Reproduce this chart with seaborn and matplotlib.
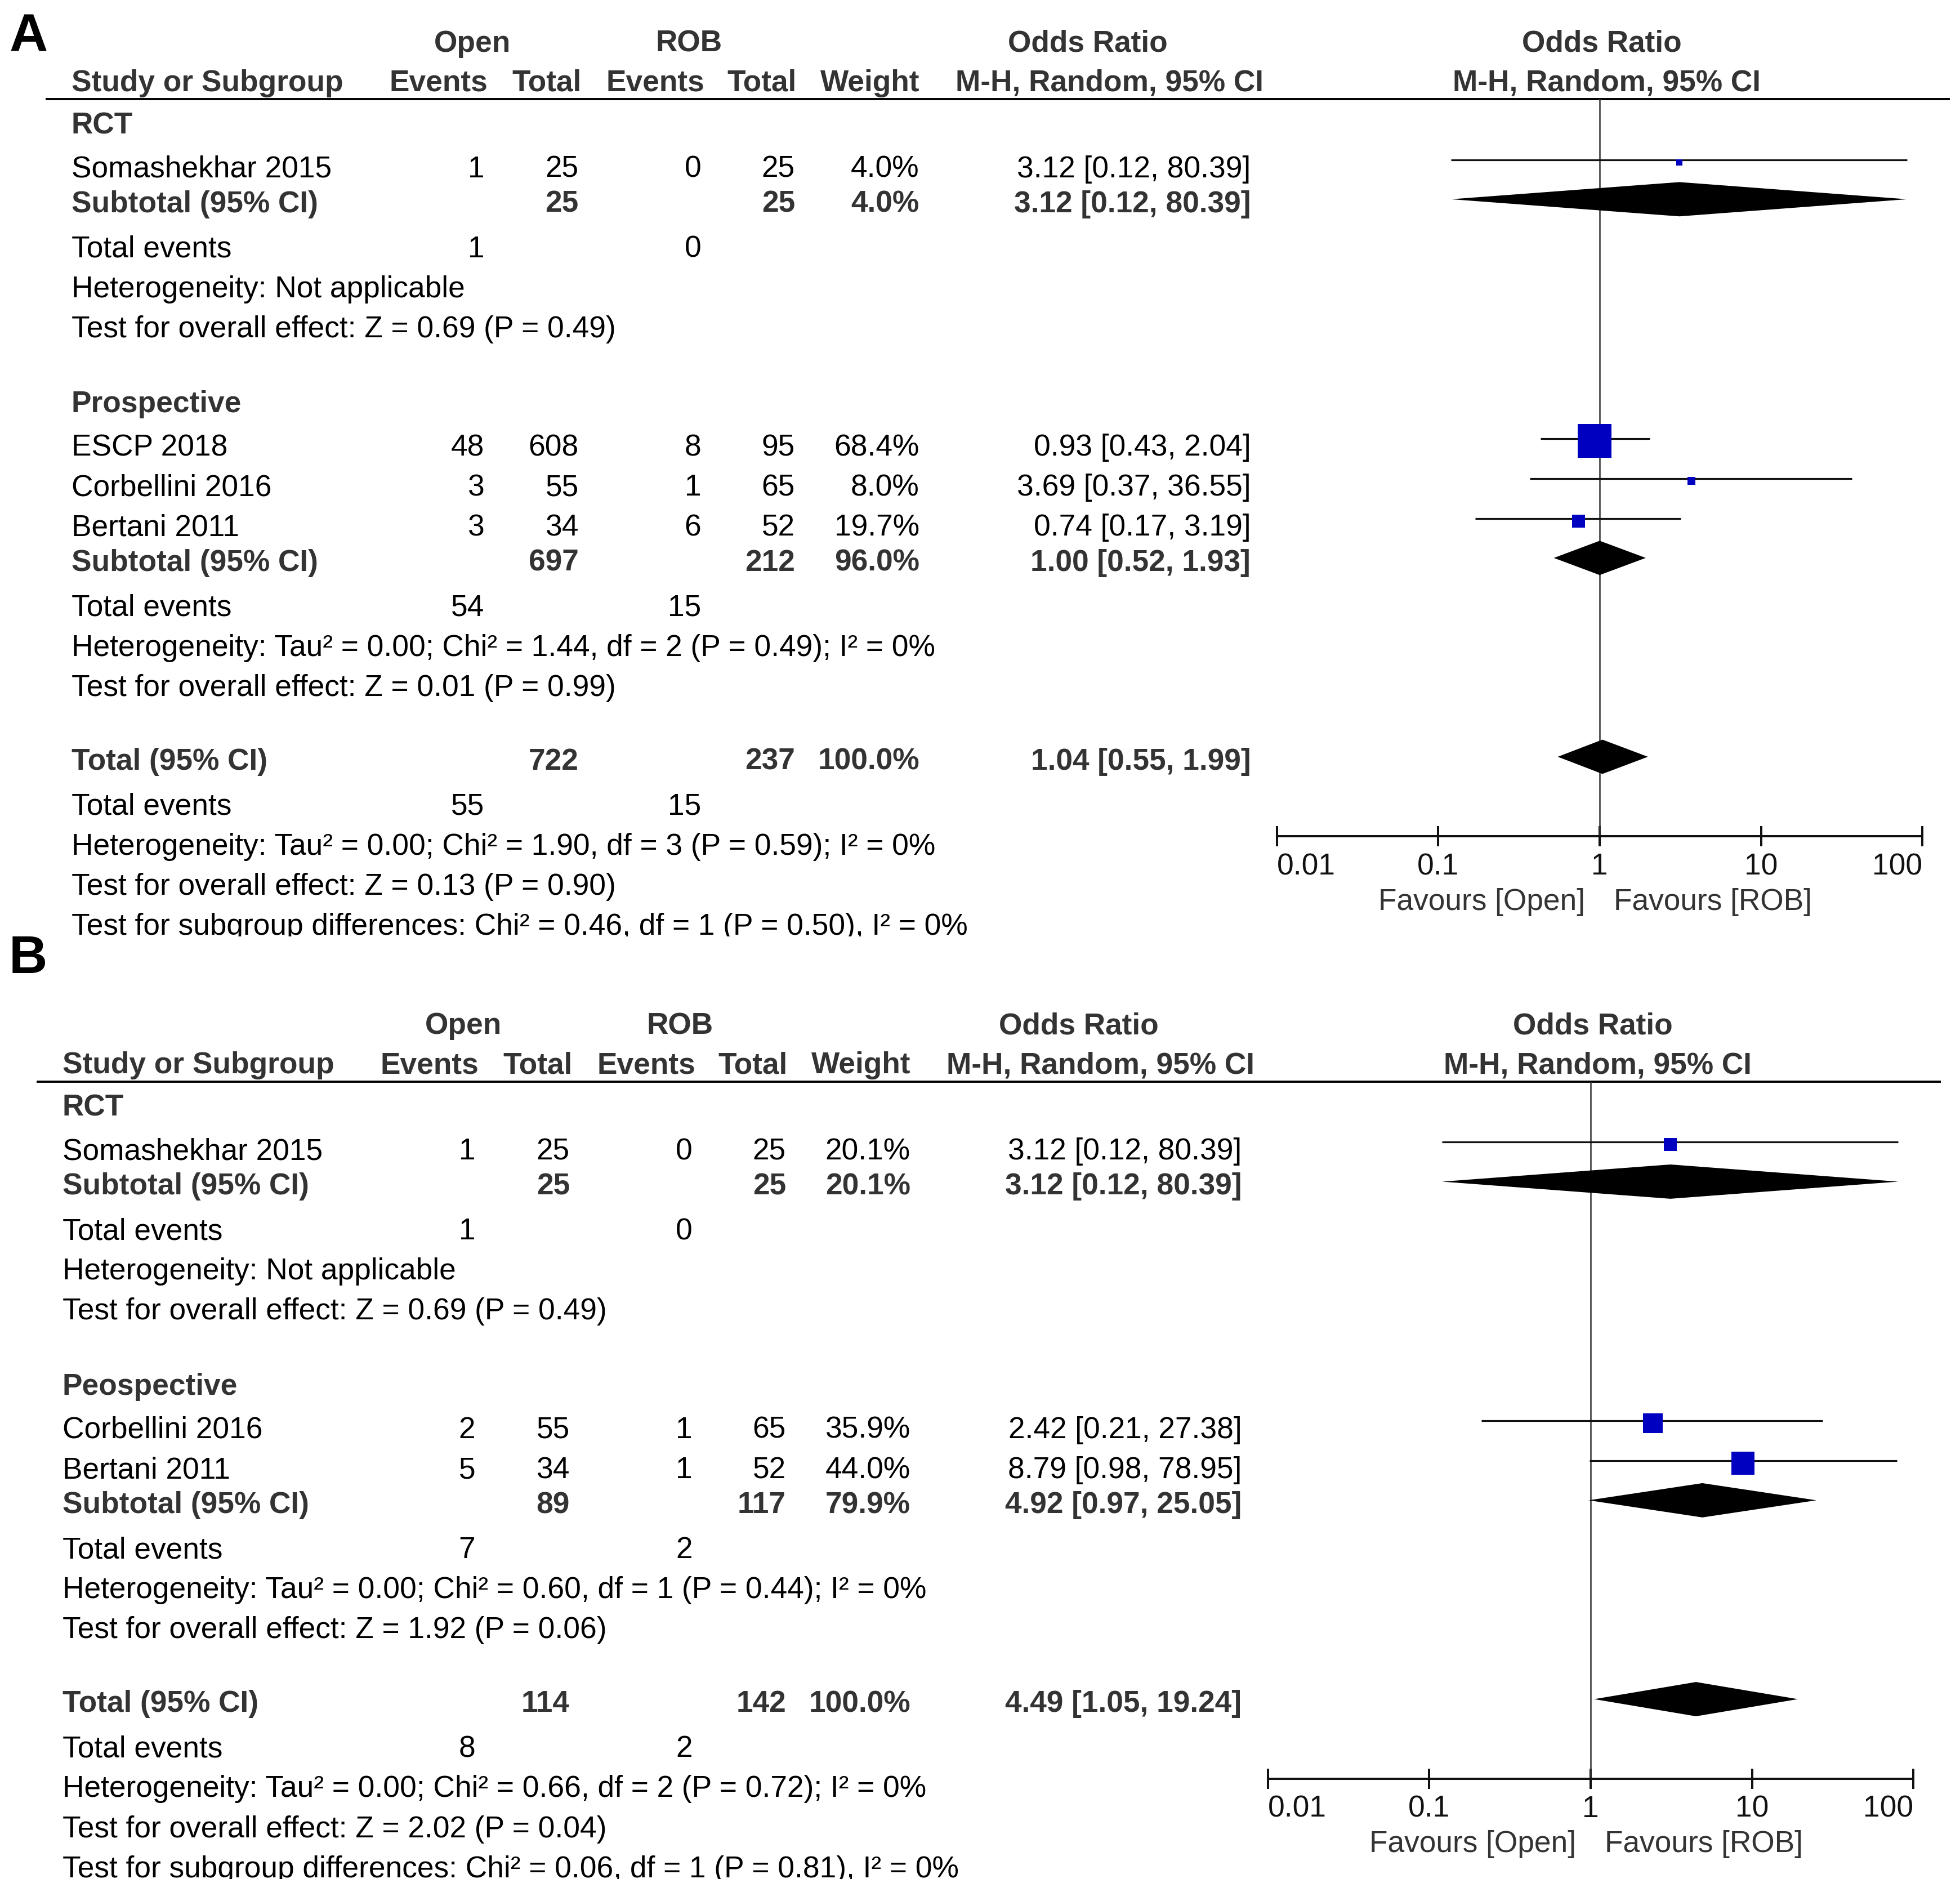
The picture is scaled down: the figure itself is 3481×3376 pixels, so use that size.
import matplotlib
matplotlib.use("Agg")
import matplotlib.pyplot as plt
from matplotlib.ticker import NullLocator
import seaborn as sns

# ---------------- data: panel A ----------------
a_study = ["Somashekhar 2015", "ESCP 2018", "Corbellini 2016", "Bertani 2011"]
a_group = ["RCT", "Prospective", "Prospective", "Prospective"]
a_open_ev = [1, 48, 3, 3]
a_open_n = [25, 608, 55, 34]
a_rob_ev = [0, 8, 1, 6]
a_rob_n = [25, 95, 65, 52]
a_weight = [4.0, 68.4, 8.0, 19.7]
a_or = [3.12, 0.93, 3.69, 0.74]
a_lo = [0.12, 0.43, 0.37, 0.17]
a_hi = [80.39, 2.04, 36.55, 3.19]

a_sub_name = ["RCT", "Prospective"]
a_sub_open_n = [25, 697]
a_sub_rob_n = [25, 212]
a_sub_weight = [4.0, 96.0]
a_sub_or = [3.12, 1.00]
a_sub_lo = [0.12, 0.52]
a_sub_hi = [80.39, 1.93]
a_sub_open_ev = [1, 54]
a_sub_rob_ev = [0, 15]
a_sub_het = ["Heterogeneity: Not applicable",
             "Heterogeneity: Tau² = 0.00; Chi² = 1.44, df = 2 (P = 0.49); I² = 0%"]
a_sub_test = ["Test for overall effect: Z = 0.69 (P = 0.49)",
              "Test for overall effect: Z = 0.01 (P = 0.99)"]

a_tot_n = [722, 237]
a_tot_ev = [55, 15]
a_tot_or = [1.04, 0.55, 1.99]
a_tot_lines = ["Heterogeneity: Tau² = 0.00; Chi² = 1.90, df = 3 (P = 0.59); I² = 0%",
               "Test for overall effect: Z = 0.13 (P = 0.90)",
               "Test for subgroup differences: Chi² = 0.46, df = 1 (P = 0.50), I² = 0%"]

# ---------------- data: panel B ----------------
b_study = ["Somashekhar 2015", "Corbellini 2016", "Bertani 2011"]
b_group = ["RCT", "Peospective", "Peospective"]
b_open_ev = [1, 2, 5]
b_open_n = [25, 55, 34]
b_rob_ev = [0, 1, 1]
b_rob_n = [25, 65, 52]
b_weight = [20.1, 35.9, 44.0]
b_or = [3.12, 2.42, 8.79]
b_lo = [0.12, 0.21, 0.98]
b_hi = [80.39, 27.38, 78.95]

b_sub_name = ["RCT", "Peospective"]
b_sub_open_n = [25, 89]
b_sub_rob_n = [25, 117]
b_sub_weight = [20.1, 79.9]
b_sub_or = [3.12, 4.92]
b_sub_lo = [0.12, 0.97]
b_sub_hi = [80.39, 25.05]
b_sub_open_ev = [1, 7]
b_sub_rob_ev = [0, 2]
b_sub_het = ["Heterogeneity: Not applicable",
             "Heterogeneity: Tau² = 0.00; Chi² = 0.60, df = 1 (P = 0.44); I² = 0%"]
b_sub_test = ["Test for overall effect: Z = 0.69 (P = 0.49)",
              "Test for overall effect: Z = 1.92 (P = 0.06)"]

b_tot_n = [114, 142]
b_tot_ev = [8, 2]
b_tot_or = [4.49, 1.05, 19.24]
b_tot_lines = ["Heterogeneity: Tau² = 0.00; Chi² = 0.66, df = 2 (P = 0.72); I² = 0%",
               "Test for overall effect: Z = 2.02 (P = 0.04)",
               "Test for subgroup differences: Chi² = 0.06, df = 1 (P = 0.81), I² = 0%"]

or_ticks = [0.01, 0.1, 1, 10, 100]
or_tick_labels = ["0.01", "0.1", "1", "10", "100"]

# ---------------- layout (reference units, 1 unit = 2.22 px) ----------------
W_D, H_D = 1568, 1520
FS = 19.2
BOLD_C = "#333333"
BASE = 7.8          # text centre -> baseline
X_LABEL = 57
COL_OPEN_EV, COL_OPEN_N = 387.5, 463
COL_ROB_EV, COL_ROB_N = 561, 636
COL_W, COL_OR = 735.5, 1000.5
FX0, FX1 = 1021.5, 1538
LINE_Y = 79.4
SQ_BLUE = "#0000C0"

sns.set_style("white")
plt.rcParams["font.family"] = ["Liberation Sans", "DejaVu Sans"]


def fig_rect(x0, y0, x1, y1):
    return [x0 / W_D, 1 - y1 / H_D, (x1 - x0) / W_D, (y1 - y0) / H_D]


def put(ax, x, y, s, ha="left", bold=False, color=None):
    ax.text(x, y + BASE, s, ha=ha, va="baseline", fontsize=FS,
            fontweight="bold" if bold else "normal",
            color=color or (BOLD_C if bold else "black"), clip_on=True)


def or_text(o, lo, hi):
    return f"{o:.2f} [{lo:.2f}, {hi:.2f}]"


def draw_panel(fig, d, dx, dy, top_disp, clip_disp):
    cv = fig.add_axes(fig_rect(0, top_disp, W_D, clip_disp))
    cv.set_xlim(-dx, W_D - dx)
    cv.set_ylim(clip_disp - dy, top_disp - dy)
    cv.axis("off")

    # header
    for x, s in [(378, "Open"), (551, "ROB"), (870, "Odds Ratio"), (1281.6, "Odds Ratio")]:
        put(cv, x, 33.5, s, ha="center", bold=True)
    put(cv, X_LABEL, 65, "Study or Subgroup", bold=True)
    for x, s in [(390, "Events"), (465, "Total"), (563.5, "Events"), (637, "Total"),
                 (735.6, "Weight"), (1011, "M-H, Random, 95% CI")]:
        put(cv, x, 65, s, ha="right", bold=True)
    put(cv, 1285.4, 65, "M-H, Random, 95% CI", ha="center", bold=True)
    cv.hlines(LINE_Y, 36.3, 1560, color="black", lw=1.4)

    study_y, sub_y = {}, []
    y = LINE_Y + 19.6
    for g, name in enumerate(d["sub_name"]):
        put(cv, X_LABEL, y, name, bold=True)
        y += 34.8
        idx = [i for i, gg in enumerate(d["group"]) if gg == name]
        for k, i in enumerate(idx):
            if k:
                y += 32
            study_y[i] = y
            put(cv, X_LABEL, y, d["study"][i])
            put(cv, COL_OPEN_EV, y, str(d["open_ev"][i]), ha="right")
            put(cv, COL_OPEN_N, y, str(d["open_n"][i]), ha="right")
            put(cv, COL_ROB_EV, y, str(d["rob_ev"][i]), ha="right")
            put(cv, COL_ROB_N, y, str(d["rob_n"][i]), ha="right")
            put(cv, COL_W, y, f"{d['weight'][i]:.1f}%", ha="right")
            put(cv, COL_OR, y, or_text(d["or"][i], d["lo"][i], d["hi"][i]), ha="right")
        y += 28
        sub_y.append(y)
        put(cv, X_LABEL, y, "Subtotal (95% CI)", bold=True)
        put(cv, COL_OPEN_N, y, str(d["sub_open_n"][g]), ha="right", bold=True)
        put(cv, COL_ROB_N, y, str(d["sub_rob_n"][g]), ha="right", bold=True)
        put(cv, COL_W, y, f"{d['sub_weight'][g]:.1f}%", ha="right", bold=True)
        put(cv, COL_OR, y, or_text(d["sub_or"][g], d["sub_lo"][g], d["sub_hi"][g]),
            ha="right", bold=True)
        y += 36
        put(cv, X_LABEL, y, "Total events")
        put(cv, COL_OPEN_EV, y, str(d["sub_open_ev"][g]), ha="right")
        put(cv, COL_ROB_EV, y, str(d["sub_rob_ev"][g]), ha="right")
        y += 32
        put(cv, X_LABEL, y, d["sub_het"][g])
        y += 32
        put(cv, X_LABEL, y, d["sub_test"][g])
        y += 60
    y += -60 + 59
    tot_y = y
    put(cv, X_LABEL, y, "Total (95% CI)", bold=True)
    put(cv, COL_OPEN_N, y, str(d["tot_n"][0]), ha="right", bold=True)
    put(cv, COL_ROB_N, y, str(d["tot_n"][1]), ha="right", bold=True)
    put(cv, COL_W, y, "100.0%", ha="right", bold=True)
    put(cv, COL_OR, y, or_text(*d["tot_or"]), ha="right", bold=True)
    y += 36
    put(cv, X_LABEL, y, "Total events")
    put(cv, COL_OPEN_EV, y, str(d["tot_ev"][0]), ha="right")
    put(cv, COL_ROB_EV, y, str(d["tot_ev"][1]), ha="right")
    for s in d["tot_lines"]:
        y += 32
        put(cv, X_LABEL, y, s)

    # forest plot
    axis_y = tot_y + 61
    fx = fig.add_axes(fig_rect(FX0 + dx, LINE_Y + dy, FX1 + dx, axis_y + dy))
    fx.patch.set_visible(False)
    fx.set_xscale("log")
    fx.set_xlim(or_ticks[0], or_ticks[-1])
    fx.set_ylim(axis_y, LINE_Y)
    fx.axvline(1, color="#333333", lw=0.9, zorder=1)

    n = len(d["study"])
    ys = [study_y[i] for i in range(n)]
    fx.hlines([v - 6 for v in ys], d["lo"], d["hi"], color="#111111", lw=1.15, zorder=2)
    sizes = [(0.36 * (8 + 0.75 * w)) ** 2 for w in d["weight"]]
    sns.scatterplot(x=d["or"], y=[v - 4 for v in ys], s=sizes, marker="s",
                    color=SQ_BLUE, linewidth=0, legend=False, ax=fx, zorder=3)

    h = 13.7
    dia = [(sub_y[g], d["sub_or"][g], d["sub_lo"][g], d["sub_hi"][g])
           for g in range(len(sub_y))]
    dia.append((tot_y, d["tot_or"][0], d["tot_or"][1], d["tot_or"][2]))
    for yy, est, lo, hi in dia:
        yc = yy - 2.5
        fx.fill([lo, est, hi, est], [yc, yc - h, yc, yc + h], color="black", lw=0, zorder=3)

    sns.despine(ax=fx, left=True)
    fx.spines["bottom"].set_linewidth(1.45)
    fx.spines["bottom"].set_color("#111111")
    fx.set_yticks([])
    fx.set_xticks(or_ticks)
    fx.set_xticklabels(or_tick_labels)
    fx.xaxis.set_minor_locator(NullLocator())
    fx.tick_params(axis="x", direction="inout", length=13, width=1.45, pad=4,
                   labelsize=FS, colors="#111111", bottom=True)
    labels = fx.get_xticklabels()
    labels[0].set_ha("left")
    labels[-1].set_ha("right")
    fx.set_xlabel("")
    fx.set_ylabel("")

    put(cv, 1268, axis_y + 51, "Favours [Open]", ha="right", color=BOLD_C)
    put(cv, 1291, axis_y + 51, "Favours [ROB]", ha="left", color=BOLD_C)


fig = plt.figure(figsize=(3481 / 200, 3376 / 200), dpi=200)
fig.patch.set_facecolor("white")

panel_a = dict(study=a_study, group=a_group, open_ev=a_open_ev, open_n=a_open_n,
               rob_ev=a_rob_ev, rob_n=a_rob_n, weight=a_weight, lo=a_lo, hi=a_hi,
               sub_name=a_sub_name, sub_open_n=a_sub_open_n, sub_rob_n=a_sub_rob_n,
               sub_weight=a_sub_weight, sub_or=a_sub_or, sub_lo=a_sub_lo, sub_hi=a_sub_hi,
               sub_open_ev=a_sub_open_ev, sub_rob_ev=a_sub_rob_ev, sub_het=a_sub_het,
               sub_test=a_sub_test, tot_n=a_tot_n, tot_ev=a_tot_ev, tot_or=a_tot_or,
               tot_lines=a_tot_lines)
panel_a["or"] = a_or
panel_b = dict(study=b_study, group=b_group, open_ev=b_open_ev, open_n=b_open_n,
               rob_ev=b_rob_ev, rob_n=b_rob_n, weight=b_weight, lo=b_lo, hi=b_hi,
               sub_name=b_sub_name, sub_open_n=b_sub_open_n, sub_rob_n=b_sub_rob_n,
               sub_weight=b_sub_weight, sub_or=b_sub_or, sub_lo=b_sub_lo, sub_hi=b_sub_hi,
               sub_open_ev=b_sub_open_ev, sub_rob_ev=b_sub_rob_ev, sub_het=b_sub_het,
               sub_test=b_sub_test, tot_n=b_tot_n, tot_ev=b_tot_ev, tot_or=b_tot_or,
               tot_lines=b_tot_lines)
panel_b["or"] = b_or

draw_panel(fig, panel_a, 0, 0, 0, 748.7)
draw_panel(fig, panel_b, -7.2, 785.5, 748.7, 1502.5)

fig.text(23 / W_D, 1 - 41.3 / H_D, "A", ha="center", va="baseline",
         fontsize=34, fontweight="bold", color="black")
fig.text(22.5 / W_D, 1 - 778 / H_D, "B", ha="center", va="baseline",
         fontsize=34, fontweight="bold", color="black")

fig.savefig("out.png", dpi=200, facecolor="white")
